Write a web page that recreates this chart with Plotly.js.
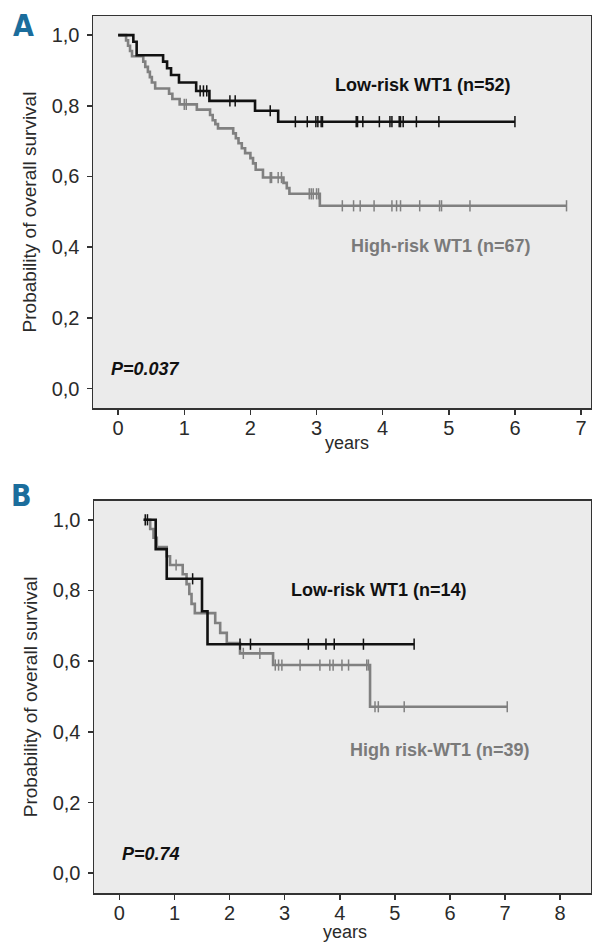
<!DOCTYPE html>
<html>
<head>
<meta charset="utf-8">
<script src="https://cdn.plot.ly/plotly-3.0.1.min.js"></script>
<style>html,body{margin:0;padding:0;background:#fff;}#chart{width:592px;height:942px;}</style>
</head>
<body>
<div id="chart"></div>
<script>
// ---------- Panel A data (years, survival probability) ----------
const timesA_low = [0, 0.23, 0.28, 0.68, 0.74, 0.80, 0.92, 1.18, 1.38, 2.07, 2.42];
const survA_low  = [1.0, 0.981, 0.943, 0.925, 0.906, 0.887, 0.866, 0.842, 0.814, 0.786, 0.755];
const endA_low = 6.00;
const censA_low = [1.24, 1.29, 1.34, 1.69, 1.77, 2.30, 2.68, 2.86, 2.99, 3.02, 3.07, 3.09, 3.60, 3.62, 3.70, 3.95, 4.11, 4.14, 4.25, 4.27, 4.31, 4.51, 4.85, 6.00];

const timesA_high = [0, 0.12, 0.15, 0.18, 0.21, 0.38, 0.41, 0.45, 0.48, 0.51, 0.56, 0.77, 0.82, 0.93, 1.19, 1.39, 1.43, 1.47, 1.51, 1.74, 1.78, 1.82, 1.87, 1.92, 2.00, 2.04, 2.08, 2.19, 2.50, 2.55, 2.59, 3.05];
const survA_high  = [1.0, 0.985, 0.970, 0.955, 0.940, 0.925, 0.910, 0.896, 0.881, 0.866, 0.849, 0.834, 0.819, 0.804, 0.789, 0.774, 0.759, 0.748, 0.736, 0.722, 0.708, 0.694, 0.680, 0.666, 0.652, 0.637, 0.619, 0.597, 0.582, 0.567, 0.551, 0.517];
const endA_high = 6.78;
const censA_high = [1.00, 1.03, 2.30, 2.32, 2.42, 2.47, 2.89, 2.92, 2.95, 3.00, 3.03, 3.39, 3.56, 3.66, 3.87, 4.14, 4.21, 4.27, 4.56, 4.86, 4.89, 5.32, 6.78];

// ---------- Panel B data ----------
const timesB_low = [0.44, 0.66, 0.86, 1.50, 1.60];
const survB_low  = [1.0, 0.917, 0.833, 0.741, 0.648];
const endB_low = 5.35;
const censB_low = [0.47, 0.51, 1.33, 2.19, 2.38, 3.43, 3.75, 3.90, 4.43, 5.35];

const timesB_high = [0.44, 0.56, 0.62, 0.68, 0.86, 0.92, 1.15, 1.22, 1.27, 1.31, 1.37, 1.74, 1.83, 1.95, 2.19, 2.79, 4.55];
const survB_high  = [1.0, 0.974, 0.949, 0.923, 0.897, 0.872, 0.846, 0.818, 0.790, 0.762, 0.736, 0.708, 0.680, 0.651, 0.622, 0.589, 0.471];
const endB_high = 7.04;
const censB_high = [1.03, 2.25, 2.55, 2.83, 2.89, 2.95, 3.28, 3.64, 3.82, 3.88, 4.04, 4.16, 4.49, 4.52, 4.64, 4.70, 5.17, 7.04];

// ---------- Labels ----------
const panelLabels = ['A', 'B'];
const seriesLabelsA = ['Low-risk WT1 (n=52)', 'High-risk WT1 (n=67)'];
const seriesLabelsB = ['Low-risk WT1 (n=14)', 'High risk-WT1 (n=39)'];
const pValues = ['P=0.037', 'P=0.74'];
const yTitle = 'Probability of overall survival';
const xTitle = 'years';

const BLACK = '#111111';
const GRAY = '#808080';

function stepAt(times, surv, t) {
  let v = surv[0];
  for (let i = 0; i < times.length; i++) { if (times[i] <= t) v = surv[i]; }
  return v;
}
function curve(times, surv, end, cens, color, xa, ya, name) {
  return [
    {x: times.concat([end]), y: surv.concat([surv[surv.length - 1]]), mode: 'lines',
     line: {shape: 'hv', color: color, width: 2.6}, xaxis: xa, yaxis: ya, name: name,
     hoverinfo: 'skip', showlegend: false},
    {x: cens, y: cens.map(t => stepAt(times, surv, t)), mode: 'markers',
     marker: {symbol: 'line-ns', size: 8, line: {color: color, width: 1.5}},
     xaxis: xa, yaxis: ya, name: name + ' censored', hoverinfo: 'skip', showlegend: false}
  ];
}

const data = [].concat(
  curve(timesA_high, survA_high, endA_high, censA_high, GRAY, 'x', 'y', seriesLabelsA[1]),
  curve(timesA_low, survA_low, endA_low, censA_low, BLACK, 'x', 'y', seriesLabelsA[0]),
  curve(timesB_high, survB_high, endB_high, censB_high, GRAY, 'x2', 'y2', seriesLabelsB[1]),
  curve(timesB_low, survB_low, endB_low, censB_low, BLACK, 'x2', 'y2', seriesLabelsB[0])
);

const tickFont = {family: 'Liberation Sans, Arial, sans-serif', size: 20, color: '#2a2a2a'};
const titleFont = {family: 'Liberation Sans, Arial, sans-serif', size: 19, color: '#2a2a2a'};
const xTitleFont = {family: 'Liberation Sans, Arial, sans-serif', size: 18, color: '#2a2a2a'};
function xAxis(domain, range, anchor) {
  return {domain: domain, range: range, anchor: anchor, dtick: 1, tick0: 0,
    showgrid: false, zeroline: false, showline: true, mirror: true, linecolor: '#333', linewidth: 1.5,
    ticks: 'outside', ticklen: 5, tickwidth: 1.5, tickcolor: '#333', tickfont: tickFont,
    ticklabelstandoff: -4, automargin: false};
}
function yAxis(domain, range, anchor) {
  return {domain: domain, range: range, anchor: anchor, dtick: 0.2, tick0: 0, tickformat: '.1f',
    showgrid: false, zeroline: false, showline: true, mirror: true, linecolor: '#333', linewidth: 1.5,
    ticks: 'outside', ticklen: 5, tickwidth: 1.5, tickcolor: '#333', tickfont: tickFont,
    ticklabelstandoff: 3,
    title: {text: yTitle, font: titleFont, standoff: 10}, automargin: false};
}

const boldFont = (c) => ({family: 'Liberation Sans, Arial, sans-serif', size: 18, color: c, weight: 'bold'});
const letterFont = {family: 'Liberation Sans Narrow, DejaVu Sans Condensed, Arial Narrow, sans-serif', size: 30, color: '#1b6d9c', weight: 'bold'};

const annotations = [
  {xref: 'paper', yref: 'paper', x: 0.0397, y: 0.9724, text: '<b>' + panelLabels[0] + '</b>', font: letterFont, showarrow: false, xanchor: 'center', yanchor: 'middle'},
  {xref: 'paper', yref: 'paper', x: 0.0355, y: 0.4735, text: '<b>' + panelLabels[1] + '</b>', font: letterFont, showarrow: false, xanchor: 'center', yanchor: 'middle'},
  {xref: 'paper', yref: 'paper', x: 0.586, y: 0.5297, text: xTitle, font: xTitleFont, showarrow: false, xanchor: 'center', yanchor: 'middle'},
  {xref: 'paper', yref: 'paper', x: 0.583, y: 0.0106, text: xTitle, font: xTitleFont, showarrow: false, xanchor: 'center', yanchor: 'middle'},
  {xref: 'x', yref: 'y', x: 4.61, y: 0.860, text: '<b>' + seriesLabelsA[0] + '</b>', font: boldFont('#111'), showarrow: false},
  {xref: 'x', yref: 'y', x: 4.88, y: 0.404, text: '<b>' + seriesLabelsA[1] + '</b>', font: boldFont('#7a7a7a'), showarrow: false},
  {xref: 'x', yref: 'y', x: 0.42, y: 0.055, text: '<b><i>' + pValues[0] + '</i></b>', font: boldFont('#111'), showarrow: false},
  {xref: 'x2', yref: 'y2', x: 4.71, y: 0.801, text: '<b>' + seriesLabelsB[0] + '</b>', font: boldFont('#111'), showarrow: false},
  {xref: 'x2', yref: 'y2', x: 5.82, y: 0.350, text: '<b>' + seriesLabelsB[1] + '</b>', font: boldFont('#7a7a7a'), showarrow: false},
  {xref: 'x2', yref: 'y2', x: 0.575, y: 0.055, text: '<b><i>' + pValues[1] + '</i></b>', font: boldFont('#111'), showarrow: false}
];

const layout = {
  width: 592, height: 942,
  margin: {l: 0, r: 0, t: 0, b: 0},
  paper_bgcolor: '#ffffff', plot_bgcolor: '#ebebeb',
  separators: ',.',
  showlegend: false,
  xaxis: xAxis([93/592, 591/592], [-0.38, 7.15], 'y'),
  yaxis: yAxis([1 - 408/942, 1 - 16/942], [-0.055, 1.054], 'x'),
  xaxis2: xAxis([94/592, 591/592], [-0.46, 8.56], 'y2'),
  yaxis2: yAxis([1 - 893/942, 1 - 500.7/942], [-0.056, 1.054], 'x2'),
  annotations: annotations
};

Plotly.newPlot('chart', data, layout, {displayModeBar: false, staticPlot: true});
</script>
</body>
</html>
